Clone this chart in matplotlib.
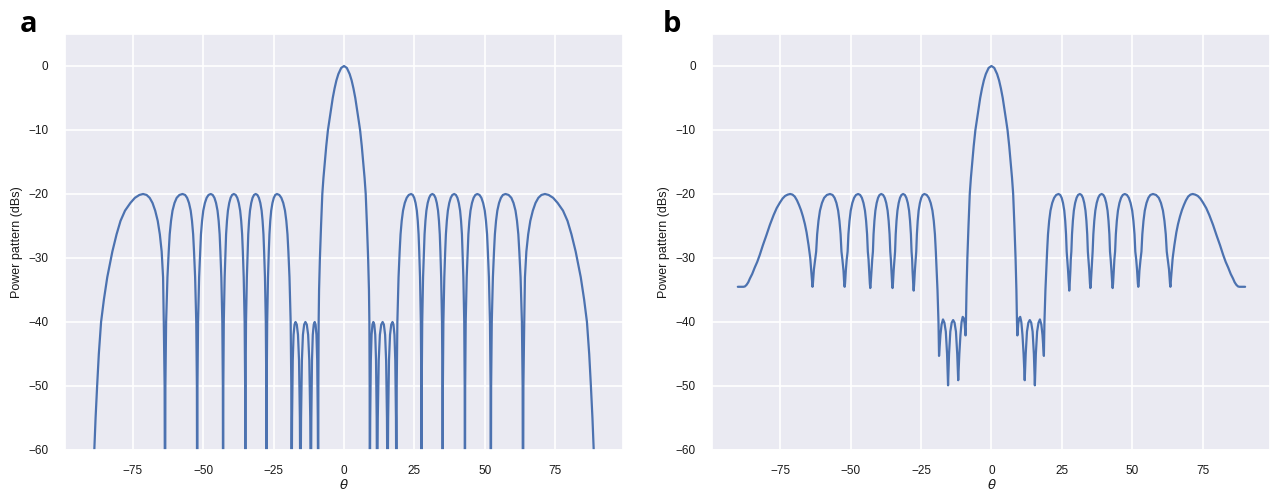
import numpy as np
import matplotlib
matplotlib.use("Agg")
import matplotlib.pyplot as plt
import seaborn as sns

# (theta in degrees, power in dB).
# Values below -60 only mark the deep nulls that fall off the bottom of the axes.
pattern_a = [
    # far left lobe
    (-90.0, -80), (-89.2, -70), (-88.6, -60), (-88.15, -55), (-87.6, -50), (-87.0, -45), (-86.2, -40),
    (-85.2, -36.5), (-84.0, -33), (-82.2, -29), (-80.7, -26.3), (-79.3, -24.2), (-77.7, -22.6),
    (-75.8, -21.4), (-74.2, -20.6), (-72.6, -20.15), (-71.3, -20), (-70.05, -20.15), (-68.96, -20.6),
    (-67.95, -21.4), (-67.0, -22.6), (-66.1, -24.2), (-65.35, -26.3), (-64.7, -29), (-64.2, -33),
    (-63.95, -40), (-63.65, -50),
    (-63.5, -80), (-63.38, -50), (-63.12, -40), (-62.65, -33), (-62.2, -29), (-61.85, -26.3),
    (-61.38, -24.2), (-60.85, -22.6), (-60.14, -21.4), (-59.37, -20.6), (-58.4, -20.15), (-57.3, -20),
    (-56.38, -20.15), (-55.67, -20.6), (-55.01, -21.4), (-54.4, -22.6), (-53.94, -24.2), (-53.53, -26.3),
    (-53.22, -29), (-52.83, -33), (-52.43, -40), (-52.2, -50),
    (-52.1, -80), (-52.0, -50), (-51.79, -40), (-51.41, -33), (-51.04, -29), (-50.76, -26.3),
    (-50.37, -24.2), (-49.94, -22.6), (-49.36, -21.4), (-48.74, -20.6), (-48.07, -20.15), (-47.3, -20),
    (-46.6, -20.15), (-45.98, -20.6), (-45.41, -21.4), (-44.88, -22.6), (-44.48, -24.2), (-44.13, -26.3),
    (-43.87, -29), (-43.53, -33), (-43.18, -40), (-42.99, -50),
    (-42.9, -80), (-42.82, -50), (-42.66, -40), (-42.35, -33), (-42.06, -29), (-41.84, -26.3),
    (-41.53, -24.2), (-41.19, -22.6), (-40.73, -21.4), (-40.24, -20.6), (-39.71, -20.15), (-39.1, -20),
    (-38.44, -20.15), (-37.87, -20.6), (-37.34, -21.4), (-36.85, -22.6), (-36.48, -24.2), (-36.15, -26.3),
    (-35.9, -29), (-35.59, -33), (-35.26, -40), (-35.08, -50),
    (-35.0, -80), (-34.93, -50), (-34.77, -40), (-34.47, -33), (-34.2, -29), (-33.98, -26.3),
    (-33.69, -24.2), (-33.36, -22.6), (-32.92, -21.4), (-32.45, -20.6), (-31.93, -20.15), (-31.35, -20),
    (-30.73, -20.15), (-30.2, -20.6), (-29.69, -21.4), (-29.23, -22.6), (-28.89, -24.2), (-28.58, -26.3),
    (-28.35, -29), (-28.05, -33), (-27.75, -40), (-27.58, -50),
    (-27.5, -80), (-27.43, -50), (-27.26, -40), (-26.97, -33), (-26.69, -29), (-26.46, -26.3),
    (-26.17, -24.2), (-25.84, -22.6), (-25.39, -21.4), (-24.91, -20.6), (-24.39, -20.15), (-23.8, -20),
    (-22.97, -20.15), (-22.24, -20.6), (-21.56, -21.4), (-20.94, -22.6), (-20.47, -24.2), (-20.06, -26.3),
    (-19.74, -29), (-19.35, -33), (-18.93, -40), (-18.7, -50),
    # near-in lobes held at -40 dB
    (-18.6, -80), (-18.54, -65), (-18.43, -55), (-18.19, -46), (-17.9, -42), (-17.55, -40.4), (-17.2, -40),
    (-16.76, -40.4), (-16.33, -42), (-15.96, -46), (-15.66, -55), (-15.52, -65),
    (-15.45, -80), (-15.38, -65), (-15.24, -55), (-14.94, -46), (-14.58, -42), (-14.14, -40.4), (-13.7, -40),
    (-13.21, -40.4), (-12.73, -42), (-12.32, -46), (-11.98, -55), (-11.83, -65),
    (-11.75, -80), (-11.7, -65), (-11.59, -55), (-11.36, -46), (-11.08, -42), (-10.74, -40.4), (-10.4, -40),
    (-10.09, -40.4), (-9.78, -42), (-9.51, -46), (-9.3, -55), (-9.2, -65),
    # main lobe
    (-9.15, -80), (-9.1, -50), (-9.0, -40), (-8.85, -35), (-8.55, -30), (-8.15, -25), (-7.7, -20),
    (-7.3, -17.5), (-6.8, -15), (-6.3, -12.5), (-5.7, -10), (-5.2, -8.5), (-4.7, -7), (-4.0, -5),
    (-3.35, -3.5), (-2.7, -2.25), (-2.0, -1.25), (-1.0, -0.3),
    (0.0, 0.0),
    (1.0, -0.3), (2.0, -1.25), (2.7, -2.25), (3.35, -3.5), (4.0, -5), (4.7, -7), (5.2, -8.5), (5.7, -10),
    (6.3, -12.5), (6.8, -15), (7.3, -17.5), (7.7, -20), (8.15, -25), (8.55, -30), (8.85, -35), (9.0, -40),
    (9.1, -50), (9.15, -80),
    (9.2, -65), (9.3, -55), (9.51, -46), (9.78, -42), (10.09, -40.4), (10.4, -40), (10.74, -40.4),
    (11.08, -42), (11.36, -46), (11.59, -55), (11.7, -65), (11.75, -80),
    (11.83, -65), (11.98, -55), (12.32, -46), (12.73, -42), (13.21, -40.4), (13.7, -40), (14.14, -40.4),
    (14.58, -42), (14.94, -46), (15.24, -55), (15.38, -65), (15.45, -80),
    (15.52, -65), (15.66, -55), (15.96, -46), (16.33, -42), (16.76, -40.4), (17.2, -40), (17.55, -40.4),
    (17.9, -42), (18.19, -46), (18.43, -55), (18.54, -65), (18.6, -80),
    (18.7, -50), (18.93, -40), (19.35, -33), (19.74, -29), (20.06, -26.3), (20.47, -24.2), (20.94, -22.6),
    (21.56, -21.4), (22.24, -20.6), (22.97, -20.15), (23.8, -20), (24.39, -20.15), (24.91, -20.6),
    (25.39, -21.4), (25.84, -22.6), (26.17, -24.2), (26.46, -26.3), (26.69, -29), (26.97, -33),
    (27.26, -40), (27.43, -50), (27.5, -80),
    (27.58, -50), (27.75, -40), (28.05, -33), (28.35, -29), (28.58, -26.3), (28.89, -24.2), (29.23, -22.6),
    (29.69, -21.4), (30.2, -20.6), (30.73, -20.15), (31.35, -20), (31.93, -20.15), (32.45, -20.6),
    (32.92, -21.4), (33.36, -22.6), (33.69, -24.2), (33.98, -26.3), (34.2, -29), (34.47, -33),
    (34.77, -40), (34.93, -50), (35.0, -80),
    (35.08, -50), (35.26, -40), (35.59, -33), (35.9, -29), (36.15, -26.3), (36.48, -24.2), (36.85, -22.6),
    (37.34, -21.4), (37.87, -20.6), (38.44, -20.15), (39.1, -20), (39.71, -20.15), (40.24, -20.6),
    (40.73, -21.4), (41.19, -22.6), (41.53, -24.2), (41.84, -26.3), (42.06, -29), (42.35, -33),
    (42.66, -40), (42.82, -50), (42.9, -80),
    (42.99, -50), (43.18, -40), (43.53, -33), (43.87, -29), (44.13, -26.3), (44.48, -24.2), (44.88, -22.6),
    (45.41, -21.4), (45.98, -20.6), (46.6, -20.15), (47.3, -20), (48.07, -20.15), (48.74, -20.6),
    (49.36, -21.4), (49.94, -22.6), (50.37, -24.2), (50.76, -26.3), (51.04, -29), (51.41, -33),
    (51.79, -40), (52.0, -50), (52.1, -80),
    (52.2, -50), (52.43, -40), (52.83, -33), (53.22, -29), (53.53, -26.3), (53.94, -24.2), (54.4, -22.6),
    (55.01, -21.4), (55.67, -20.6), (56.38, -20.15), (57.3, -20), (58.4, -20.15), (59.37, -20.6),
    (60.14, -21.4), (60.85, -22.6), (61.38, -24.2), (61.85, -26.3), (62.2, -29), (62.65, -33),
    (63.12, -40), (63.38, -50), (63.5, -80),
    (63.65, -50), (63.95, -40), (64.2, -33), (64.7, -29), (65.35, -26.3), (66.1, -24.2), (67.0, -22.6),
    (67.95, -21.4), (68.96, -20.6), (70.05, -20.15), (71.3, -20), (72.6, -20.15), (74.2, -20.6),
    (75.8, -21.4), (77.7, -22.6), (79.3, -24.2), (80.7, -26.3), (82.2, -29), (84.0, -33), (85.2, -36.5),
    (86.2, -40), (87.0, -45), (87.6, -50), (88.15, -55), (88.6, -60), (89.2, -70), (90.0, -80),
]

pattern_b = [
    (-90.0, -34.5), (-88.0, -34.5), (-87.5, -34.45), (-86.9, -34.2), (-86.3, -33.8), (-85.7, -33.2),
    (-84.9, -32.5), (-84.0, -31.5), (-83.1, -30.6), (-82.2, -29.5), (-81.1, -28.0), (-79.9, -26.5),
    (-78.6, -24.8), (-77.3, -23.3), (-76.2, -22.2), (-75.0, -21.3), (-74.1, -20.7), (-73.2, -20.3),
    (-72.3, -20.1), (-71.4, -20), (-70.6, -20.1), (-69.8, -20.4), (-69.0, -21.0), (-68.3, -21.7),
    (-67.6, -22.5), (-66.9, -23.5), (-66.2, -24.7), (-65.6, -26), (-64.9, -28), (-64.3, -30), (-63.75, -33),
    (-63.5, -34.5), (-63.35, -34.0), (-63.0, -31.8), (-62.55, -30.2), (-62.2, -29), (-61.85, -26.3),
    (-61.38, -24.2), (-60.85, -22.6), (-60.14, -21.4), (-59.37, -20.6), (-58.4, -20.15), (-57.3, -20),
    (-56.38, -20.15), (-55.67, -20.6), (-55.01, -21.4), (-54.4, -22.6), (-53.94, -24.2), (-53.53, -26.3),
    (-53.22, -29), (-52.9, -30.2), (-52.5, -32), (-52.25, -34.0),
    (-52.1, -34.5), (-51.95, -34.0), (-51.65, -31.8), (-51.35, -30.2), (-51.04, -29), (-50.76, -26.3),
    (-50.37, -24.2), (-49.94, -22.6), (-49.36, -21.4), (-48.74, -20.6), (-48.07, -20.15), (-47.3, -20),
    (-46.6, -20.15), (-45.98, -20.6), (-45.41, -21.4), (-44.88, -22.6), (-44.48, -24.2), (-44.13, -26.3),
    (-43.87, -29), (-43.62, -30.2), (-43.4, -32), (-43.15, -34.0),
    (-43.0, -34.7), (-42.85, -34.0), (-42.55, -31.8), (-42.3, -30.2), (-42.06, -29), (-41.84, -26.3),
    (-41.53, -24.2), (-41.19, -22.6), (-40.73, -21.4), (-40.24, -20.6), (-39.71, -20.15), (-39.1, -20),
    (-38.44, -20.15), (-37.87, -20.6), (-37.34, -21.4), (-36.85, -22.6), (-36.48, -24.2), (-36.15, -26.3),
    (-35.9, -29), (-35.7, -30.2), (-35.5, -32), (-35.25, -34.0),
    (-35.1, -34.7), (-34.95, -34.0), (-34.68, -31.8), (-34.42, -30.2), (-34.2, -29), (-33.98, -26.3),
    (-33.69, -24.2), (-33.36, -22.6), (-32.92, -21.4), (-32.45, -20.6), (-31.93, -20.15), (-31.35, -20),
    (-30.73, -20.15), (-30.2, -20.6), (-29.69, -21.4), (-29.23, -22.6), (-28.89, -24.2), (-28.58, -26.3),
    (-28.35, -29), (-28.15, -30.2), (-28.0, -32), (-27.75, -34.2),
    (-27.6, -35.1), (-27.45, -34.2), (-27.15, -31.8), (-26.9, -30.2), (-26.69, -29), (-26.46, -26.3),
    (-26.17, -24.2), (-25.84, -22.6), (-25.39, -21.4), (-24.91, -20.6), (-24.39, -20.15), (-23.8, -20),
    (-22.97, -20.15), (-22.24, -20.6), (-21.56, -21.4), (-20.94, -22.6), (-20.47, -24.2), (-20.06, -26.3),
    (-19.74, -29), (-19.45, -32), (-19.15, -35), (-18.8, -40),
    (-18.6, -45.3), (-18.4, -44.0), (-18.1, -42.0), (-17.7, -40.4), (-17.2, -39.6), (-16.7, -40.1),
    (-16.2, -41.5), (-15.75, -45.0), (-15.4, -49.9), (-15.05, -45.0), (-14.6, -41.5), (-14.1, -40.1),
    (-13.6, -39.7), (-13.1, -40.1), (-12.6, -41.5), (-12.15, -45.0), (-11.8, -49.1), (-11.4, -45.0),
    (-11.0, -42.0), (-10.6, -40.0), (-10.2, -39.2), (-9.85, -39.4), (-9.5, -40.3),
    (-9.2, -42.1), (-9.05, -40), (-8.85, -35), (-8.55, -30), (-8.15, -25), (-7.7, -20), (-7.3, -17.5),
    (-6.8, -15), (-6.3, -12.5), (-5.7, -10), (-5.2, -8.5), (-4.7, -7), (-4.0, -5), (-3.35, -3.5),
    (-2.7, -2.25), (-2.0, -1.25), (-1.0, -0.3),
    (0.0, 0.0),
    (1.0, -0.3), (2.0, -1.25), (2.7, -2.25), (3.35, -3.5), (4.0, -5), (4.7, -7), (5.2, -8.5), (5.7, -10),
    (6.3, -12.5), (6.8, -15), (7.3, -17.5), (7.7, -20), (8.15, -25), (8.55, -30), (8.85, -35),
    (9.05, -40), (9.2, -42.1),
    (9.5, -40.3), (9.85, -39.4), (10.2, -39.2), (10.6, -40.0), (11.0, -42.0), (11.4, -45.0), (11.8, -49.1),
    (12.15, -45.0), (12.6, -41.5), (13.1, -40.1), (13.6, -39.7), (14.1, -40.1), (14.6, -41.5),
    (15.05, -45.0), (15.4, -49.9), (15.75, -45.0), (16.2, -41.5), (16.7, -40.1), (17.2, -39.6),
    (17.7, -40.4), (18.1, -42.0), (18.4, -44.0), (18.6, -45.3),
    (18.8, -40), (19.15, -35), (19.45, -32), (19.74, -29), (20.06, -26.3), (20.47, -24.2), (20.94, -22.6),
    (21.56, -21.4), (22.24, -20.6), (22.97, -20.15), (23.8, -20), (24.39, -20.15), (24.91, -20.6),
    (25.39, -21.4), (25.84, -22.6), (26.17, -24.2), (26.46, -26.3), (26.69, -29), (26.9, -30.2),
    (27.15, -31.8), (27.45, -34.2), (27.6, -35.1),
    (27.75, -34.2), (28.0, -32), (28.15, -30.2), (28.35, -29), (28.58, -26.3), (28.89, -24.2),
    (29.23, -22.6), (29.69, -21.4), (30.2, -20.6), (30.73, -20.15), (31.35, -20), (31.93, -20.15),
    (32.45, -20.6), (32.92, -21.4), (33.36, -22.6), (33.69, -24.2), (33.98, -26.3), (34.2, -29),
    (34.42, -30.2), (34.68, -31.8), (34.95, -34.0), (35.1, -34.7),
    (35.25, -34.0), (35.5, -32), (35.7, -30.2), (35.9, -29), (36.15, -26.3), (36.48, -24.2),
    (36.85, -22.6), (37.34, -21.4), (37.87, -20.6), (38.44, -20.15), (39.1, -20), (39.71, -20.15),
    (40.24, -20.6), (40.73, -21.4), (41.19, -22.6), (41.53, -24.2), (41.84, -26.3), (42.06, -29),
    (42.3, -30.2), (42.55, -31.8), (42.85, -34.0), (43.0, -34.7),
    (43.15, -34.0), (43.4, -32), (43.62, -30.2), (43.87, -29), (44.13, -26.3), (44.48, -24.2),
    (44.88, -22.6), (45.41, -21.4), (45.98, -20.6), (46.6, -20.15), (47.3, -20), (48.07, -20.15),
    (48.74, -20.6), (49.36, -21.4), (49.94, -22.6), (50.37, -24.2), (50.76, -26.3), (51.04, -29),
    (51.35, -30.2), (51.65, -31.8), (51.95, -34.0), (52.1, -34.5),
    (52.25, -34.0), (52.5, -32), (52.9, -30.2), (53.22, -29), (53.53, -26.3), (53.94, -24.2),
    (54.4, -22.6), (55.01, -21.4), (55.67, -20.6), (56.38, -20.15), (57.3, -20), (58.4, -20.15),
    (59.37, -20.6), (60.14, -21.4), (60.85, -22.6), (61.38, -24.2), (61.85, -26.3), (62.2, -29),
    (62.55, -30.2), (63.0, -31.8), (63.35, -34.0), (63.5, -34.5),
    (63.75, -33), (64.3, -30), (64.9, -28), (65.6, -26), (66.2, -24.7), (66.9, -23.5), (67.6, -22.5),
    (68.3, -21.7), (69.0, -21.0), (69.8, -20.4), (70.6, -20.1), (71.4, -20), (72.3, -20.1), (73.2, -20.3),
    (74.1, -20.7), (75.0, -21.3), (76.2, -22.2), (77.3, -23.3), (78.6, -24.8), (79.9, -26.5),
    (81.1, -28.0), (82.2, -29.5), (83.1, -30.6), (84.0, -31.5), (84.9, -32.5), (85.7, -33.2),
    (86.3, -33.8), (86.9, -34.2), (87.5, -34.45), (88.0, -34.5), (90.0, -34.5),
]

x_ticks = [-75, -50, -25, 0, 25, 50, 75]
y_ticks = [-60, -50, -40, -30, -20, -10, 0]
panel_letters = ['a', 'b']

sns.set_theme(style='darkgrid')
plt.rcParams['font.family'] = ['Liberation Sans', 'DejaVu Sans']

fig = plt.figure(figsize=(12.72, 4.92), dpi=100)
ax_a = fig.add_axes([0.0511, 0.0854, 0.4387, 0.8455])
ax_b = fig.add_axes([0.5601, 0.0854, 0.4387, 0.8455])

for ax, pattern in [(ax_a, pattern_a), (ax_b, pattern_b)]:
    theta, power = np.array(pattern).T
    ax.plot(theta, power, color='#4C72B0', lw=1.6)
    ax.set_xlim(-99, 99)
    ax.set_ylim(-60, 5)
    ax.set_xticks(x_ticks)
    ax.set_yticks(y_ticks)
    ax.grid(color='white', lw=1.2)
    ax.tick_params(axis='both', length=0, labelsize=8.5, labelcolor='#1a1a1a')
    ax.tick_params(axis='y', pad=12)
    ax.tick_params(axis='x', pad=11)
    ax.set_xlabel(r'$\theta$', fontsize=9.5, labelpad=0.5, color='#1a1a1a')
    ax.set_ylabel('Power pattern (dBs)', fontsize=9, labelpad=4, color='#1a1a1a')

fig.text(20 / 1272, 1 - 32 / 492, panel_letters[0], fontsize=21, fontweight='bold',
         family='Open Sans', va='baseline', color='black')
fig.text(663 / 1272, 1 - 32 / 492, panel_letters[1], fontsize=21, fontweight='bold',
         family='Open Sans', va='baseline', color='black')

fig.savefig('out.png', dpi=100)
